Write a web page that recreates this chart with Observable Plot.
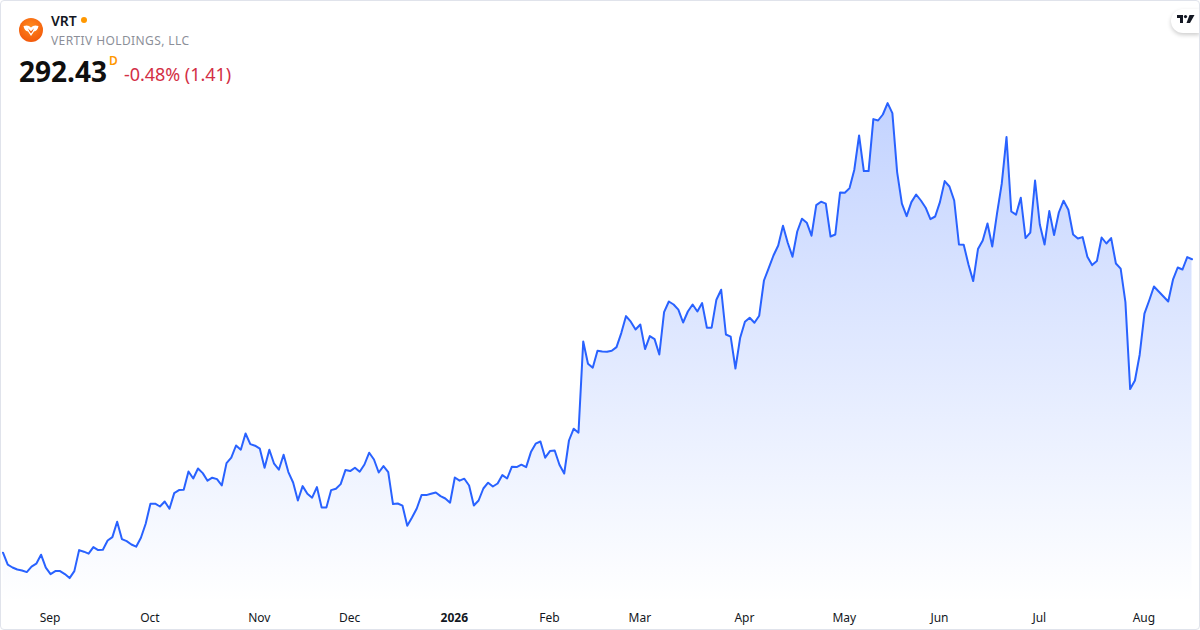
<!DOCTYPE html>
<html><head><meta charset="utf-8">
<script src="https://cdn.jsdelivr.net/npm/d3@7"></script>
<script src="https://cdn.jsdelivr.net/npm/@observablehq/plot@0.6"></script>
<style>
html,body{margin:0;padding:0;background:#fff;width:1200px;height:630px;overflow:hidden}
#card{position:absolute;left:0;top:0;width:1200px;height:630px;box-sizing:border-box;border:1px solid #e0e3eb;border-radius:4px;pointer-events:none;z-index:3}
#chart{position:absolute;left:0;top:0}
#chart svg{display:block}
.t{position:absolute;font-family:"Noto Sans",sans-serif;white-space:nowrap;z-index:2}
#logo{position:absolute;left:19px;top:18px;z-index:2}
#dot{position:absolute;left:81px;top:17px;width:6px;height:6px;border-radius:50%;background:#ff9800;z-index:2}
#tv{position:absolute;left:1171px;top:9px;width:29px;height:24px;background:#fff;border-radius:12px 0 0 12px;box-shadow:0 2px 4px rgba(0,0,0,.2);z-index:2}
#tv svg{position:absolute;left:6px;top:6px}
</style></head><body>
<div id="chart"></div>
<div id="card"></div>
<svg id="logo" width="24" height="24" viewBox="0 0 24 24">
<defs><radialGradient id="lg" cx="50%" cy="35%" r="70%"><stop offset="0" stop-color="#ff8a1e"/><stop offset="1" stop-color="#f2560a"/></radialGradient></defs>
<circle cx="12" cy="12" r="12" fill="url(#lg)"/>
<path d="M4.5 8 C8 6.8 10 7.5 12 9.5 C14 7.5 16 6.8 19.5 8 C19 11.5 17 13 15 13.5 L12 18 L9 13.5 C7 13 5 11.5 4.5 8Z" fill="#fff"/>
<path d="M9 10.3 L12 13.2 L15 10.3 L13.4 13.8 L12 15.6 L10.6 13.8Z" fill="#f2600f"/>
</svg>
<div class="t" id="sym" style="left:51px;top:11px;font-size:14px;line-height:20px;font-weight:600;color:#131722">VRT</div>
<div id="dot"></div>
<div class="t" id="name" style="left:51px;top:32px;font-size:12px;line-height:18px;color:#8c8f99;letter-spacing:.4px">VERTIV HOLDINGS, LLC</div>
<div class="t" id="price" style="left:19px;top:52px;font-size:28px;line-height:38px;font-weight:700;color:#0f0f0f">292.43</div>
<div class="t" id="cur" style="left:109px;top:53px;font-size:12px;line-height:16px;font-weight:600;color:#ff9800">D</div>
<div class="t" id="chg" style="left:124px;top:61px;font-size:18px;line-height:26px;color:#d32f45;letter-spacing:-.05px">-0.48% (1.41)</div>
<div id="tv"><svg width="18" height="12" viewBox="0 0 18 12"><path d="M0 0H6V8H3V3H0Z" fill="#131722"/><circle cx="8.5" cy="1.6" r="1.6" fill="#131722"/><path d="M12.5 0H17.5L13 8H9.5Z" fill="#131722"/></svg></div>
<script>
const closes = [145.7,139.7,138.3,137.3,136.8,136.0,138.7,140.2,144.7,138.2,135.0,136.5,136.5,135.0,133.0,136.5,147.0,146.2,145.2,148.5,
147.0,147.2,151.8,153.5,161.2,152.5,151.5,149.8,148.7,153.2,160.2,170.2,170.2,168.8,171.3,167.7,175.5,177.0,177.2,186.3,
182.8,187.8,185.5,181.7,183.2,182.5,179.3,190.5,193.2,199.3,197.2,205.3,200.0,199.2,197.7,188.2,197.2,190.2,187.2,194.7,
186.0,180.8,171.8,179.0,175.2,173.2,178.5,168.3,168.3,177.0,177.7,180.0,187.0,186.5,188.2,186.2,189.8,195.7,192.3,185.8,
189.0,186.0,170.0,170.3,169.2,159.2,163.3,167.8,174.5,174.5,175.2,175.8,174.0,172.8,170.7,183.3,181.7,182.7,179.3,169.3,
171.8,177.8,180.7,178.8,180.3,184.5,182.8,188.7,188.5,189.7,188.5,196.0,200.2,201.3,193.2,196.5,196.8,189.7,185.3,201.8,
207.7,205.7,251.3,240.2,238.2,246.7,246.3,246.2,246.7,248.5,255.5,264.0,261.2,257.3,259.8,247.5,254.0,252.5,244.8,266.0,
271.3,269.8,267.2,260.8,266.3,269.8,266.3,270.5,258.2,258.2,272.2,277.2,254.8,253.7,237.8,253.2,261.2,263.2,260.7,264.2,
281.8,288.0,294.3,299.3,309.2,300.7,293.7,306.3,312.7,310.7,304.2,319.5,321.2,320.2,303.8,304.8,325.8,325.7,328.0,337.2,
354.3,336.5,336.5,362.5,361.8,364.8,370.5,365.5,336.0,320.2,314.0,321.0,324.8,321.8,318.2,312.5,313.8,321.0,331.5,328.8,
321.8,299.8,299.7,289.8,281.5,297.5,301.8,310.3,298.8,315.2,330.2,353.5,316.3,314.7,323.2,303.0,305.7,331.8,309.8,299.8,
316.5,304.5,315.8,321.7,317.2,304.8,302.8,303.5,293.7,289.5,291.5,303.3,300.3,303.0,290.3,287.7,271.0,227.5,231.8,244.7,
265.2,271.8,278.8,276.3,273.8,271.3,282.2,288.3,287.3,293.5,292.43];
const monthLabels = ["Sep","Oct","Nov","Dec","Feb","Mar","Apr","May","Jun","Jul","Aug"];
const monthSessions = [10,31,54,73,115,134,156,177,197,218,240];
const yearLabel = "2026";
const yearSession = 95;
const floorPrice = 120.3, ceilPrice = 421.8;
const rows = closes.map((close, session) => ({session, close}));

function gradient(){
  const ns = "http://www.w3.org/2000/svg";
  const defs = document.createElementNS(ns,"defs");
  defs.innerHTML = '<linearGradient id="fade" x1="0" y1="0" x2="0" y2="1"><stop offset="0" stop-color="#2962ff" stop-opacity="0.28"/><stop offset="1" stop-color="#2962ff" stop-opacity="0"/></linearGradient>';
  return defs;
}
const font = '"Noto Sans",sans-serif';
const chart = Plot.plot({
  width:1200, height:630,
  marginLeft:2.5, marginRight:8.5, marginTop:0, marginBottom:27,
  style:{background:"transparent",fontFamily:font,fontSize:"12px",color:"#131722"},
  x:{domain:[0,closes.length-1],axis:null},
  y:{domain:[floorPrice,ceilPrice],axis:null},
  marks:[
    gradient,
    Plot.areaY(rows,{x:"session",y1:floorPrice,y2:"close",fill:"url(#fade)"}),
    Plot.lineY(rows,{x:"session",y:"close",stroke:"#2962ff",strokeWidth:2,strokeLinejoin:"round",strokeLinecap:"round"}),
    Plot.axisX({ticks:monthSessions,tickFormat:d=>monthLabels[monthSessions.indexOf(d)],tickSize:0,tickPadding:10,dx:-0.5,fontSize:12,fill:"#131722",fontWeight:400,label:null}),
    Plot.axisX({ticks:[yearSession],tickFormat:()=>yearLabel,tickSize:0,tickPadding:10,dx:-0.5,fontSize:12,fill:"#131722",fontWeight:700,label:null})
  ]
});
document.getElementById("chart").append(chart);
</script>
</body></html>
